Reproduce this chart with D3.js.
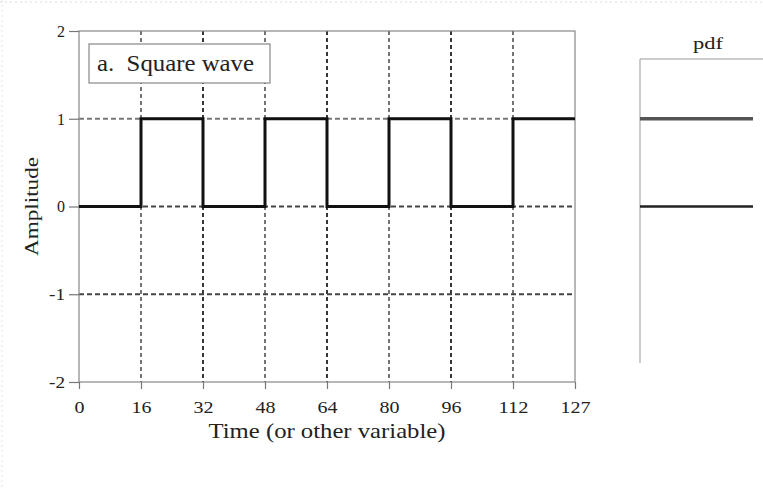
<!DOCTYPE html>
<html>
<head>
<meta charset="utf-8">
<script src="https://cdn.jsdelivr.net/npm/d3@7.9.0/dist/d3.min.js"></script>
<style>
  body { margin: 0; background: #fff; }
  svg text { font-family: "Liberation Serif", "Times New Roman", serif; fill: #222; }
</style>
</head>
<body>
<svg id="chart" width="763" height="488"></svg>
<script>
// square wave: value holds from each start until the next one
const segStarts = [0, 16, 32, 48, 64, 80, 96, 112, 128];
const segValues = [0, 1, 0, 1, 0, 1, 0, 1, 1];

const xTicks = [0, 16, 32, 48, 64, 80, 96, 112, 128];
const xTickLabels = ["0", "16", "32", "48", "64", "80", "96", "112", "127"];
const yTicks = [-2, -1, 0, 1, 2];
const gridX = [16, 32, 48, 64, 80, 96, 112];
const gridY = [-1, 0, 1];

// pdf panel: amplitude levels and their probability
const pdfLevels = [1, 0];
const pdfProb = [0.5, 0.5];

const serif = "'Liberation Serif', 'Times New Roman', serif";
const svg = d3.select("#chart");

const area = { left: 79, right: 575, top: 31, bottom: 382 };

const x = d3.scaleLinear().domain([0, 128]).range([area.left, area.right]);
const y = d3.scaleLinear().domain([-2, 2]).range([area.bottom, area.top]);

// faint dotted page border like the scan
svg.append("line")
  .attr("x1", 0).attr("x2", 763).attr("y1", 2).attr("y2", 2)
  .attr("stroke", "#ddd").attr("stroke-dasharray", "2,3");
svg.append("line")
  .attr("x1", 2).attr("x2", 2).attr("y1", 0).attr("y2", 488)
  .attr("stroke", "#e4e4e4").attr("stroke-dasharray", "2,3");

// grid
svg.append("g").selectAll("line").data(gridX).join("line")
  .attr("x1", d => x(d)).attr("x2", d => x(d))
  .attr("y1", area.top).attr("y2", area.bottom)
  .attr("stroke", (d, i) => (i % 2 ? "#222" : "#666"))
  .attr("stroke-width", 1.8)
  .attr("stroke-dasharray", "4,3");

svg.append("g").selectAll("line").data(gridY).join("line")
  .attr("x1", area.left).attr("x2", area.right)
  .attr("y1", d => y(d)).attr("y2", d => y(d))
  .attr("stroke", d => (d === 1 ? "#777" : "#444"))
  .attr("stroke-width", 1.8)
  .attr("stroke-dasharray", "5,3");

// frame
svg.append("rect")
  .attr("x", area.left).attr("y", area.top)
  .attr("width", area.right - area.left).attr("height", area.bottom - area.top)
  .attr("fill", "none").attr("stroke", "#888").attr("stroke-width", 1.2);

// axes
const xAxis = svg.append("g")
  .attr("transform", `translate(0,${area.bottom})`)
  .call(d3.axisBottom(x).tickValues(xTicks)
    .tickFormat((d, i) => xTickLabels[i]).tickSize(7).tickPadding(12));

const yAxis = svg.append("g")
  .attr("transform", `translate(${area.left},0)`)
  .call(d3.axisLeft(y).tickValues(yTicks).tickFormat(d => (d < 0 ? "-" + Math.abs(d) : String(d)))
    .tickSize(10).tickPadding(4));

[xAxis, yAxis].forEach(g => {
  g.select(".domain").remove();
  g.selectAll(".tick line").attr("stroke", "#777").attr("stroke-width", 1.2);
  g.selectAll(".tick text")
    .style("font-size", "17px").style("font-family", serif)
    .attr("fill", "#222")
    .attr("textLength", function () { return this.textContent.length * 10; })
    .attr("lengthAdjust", "spacingAndGlyphs");
});
yAxis.selectAll(".tick text").attr("textLength", function () {
  return this.textContent.length * 8;
});

// the wave
const wave = segStarts.map((s, i) => ({ t: s, v: segValues[i] }));
svg.append("path")
  .datum(wave)
  .attr("fill", "none")
  .attr("stroke", "#111")
  .attr("stroke-width", 3)
  .attr("d", d3.line().x(d => x(d.t)).y(d => y(d.v)).curve(d3.curveStepAfter));

// label box
svg.append("rect")
  .attr("x", 89).attr("y", 44).attr("width", 181).attr("height", 39)
  .attr("fill", "#fff").attr("stroke", "#888").attr("stroke-width", 1.2);
svg.append("text")
  .attr("x", 97).attr("y", 71)
  .style("font-size", "23px").style("font-family", serif)
  .attr("textLength", 157).attr("lengthAdjust", "spacingAndGlyphs")
  .text("a.\u00a0 Square wave");

// axis titles
svg.append("text")
  .attr("x", (area.left + area.right) / 2).attr("y", 438)
  .attr("text-anchor", "middle")
  .style("font-size", "21px").style("font-family", serif)
  .attr("textLength", 237).attr("lengthAdjust", "spacingAndGlyphs")
  .text("Time (or other variable)");

svg.append("text")
  .attr("transform", `translate(38,${y(0)}) rotate(-90)`)
  .attr("text-anchor", "middle")
  .style("font-size", "19px").style("font-family", serif)
  .attr("textLength", 99).attr("lengthAdjust", "spacingAndGlyphs")
  .text("Amplitude");

// pdf panel
const pdfPanel = { left: 640, right: 763, top: 59, bottom: 363 };
const px = d3.scaleLinear().domain([0, 0.5]).range([pdfPanel.left, 753]);

svg.append("line")
  .attr("x1", pdfPanel.left).attr("x2", pdfPanel.left)
  .attr("y1", pdfPanel.top).attr("y2", pdfPanel.bottom)
  .attr("stroke", "#bbb").attr("stroke-width", 1.5);
svg.append("line")
  .attr("x1", pdfPanel.left).attr("x2", pdfPanel.right)
  .attr("y1", pdfPanel.top).attr("y2", pdfPanel.top)
  .attr("stroke", "#999").attr("stroke-width", 1.2);

svg.append("text")
  .attr("x", 708).attr("y", 49)
  .attr("text-anchor", "middle")
  .style("font-size", "17px").style("font-family", serif)
  .attr("textLength", 30).attr("lengthAdjust", "spacingAndGlyphs")
  .text("pdf");

svg.append("g").selectAll("line").data(pdfLevels).join("line")
  .attr("x1", px(0)).attr("x2", (d, i) => px(pdfProb[i]))
  .attr("y1", d => y(d)).attr("y2", d => y(d))
  .attr("stroke", (d, i) => (i === 0 ? "#555" : "#222"))
  .attr("stroke-width", (d, i) => (i === 0 ? 3.5 : 2.5));
</script>
</body>
</html>
